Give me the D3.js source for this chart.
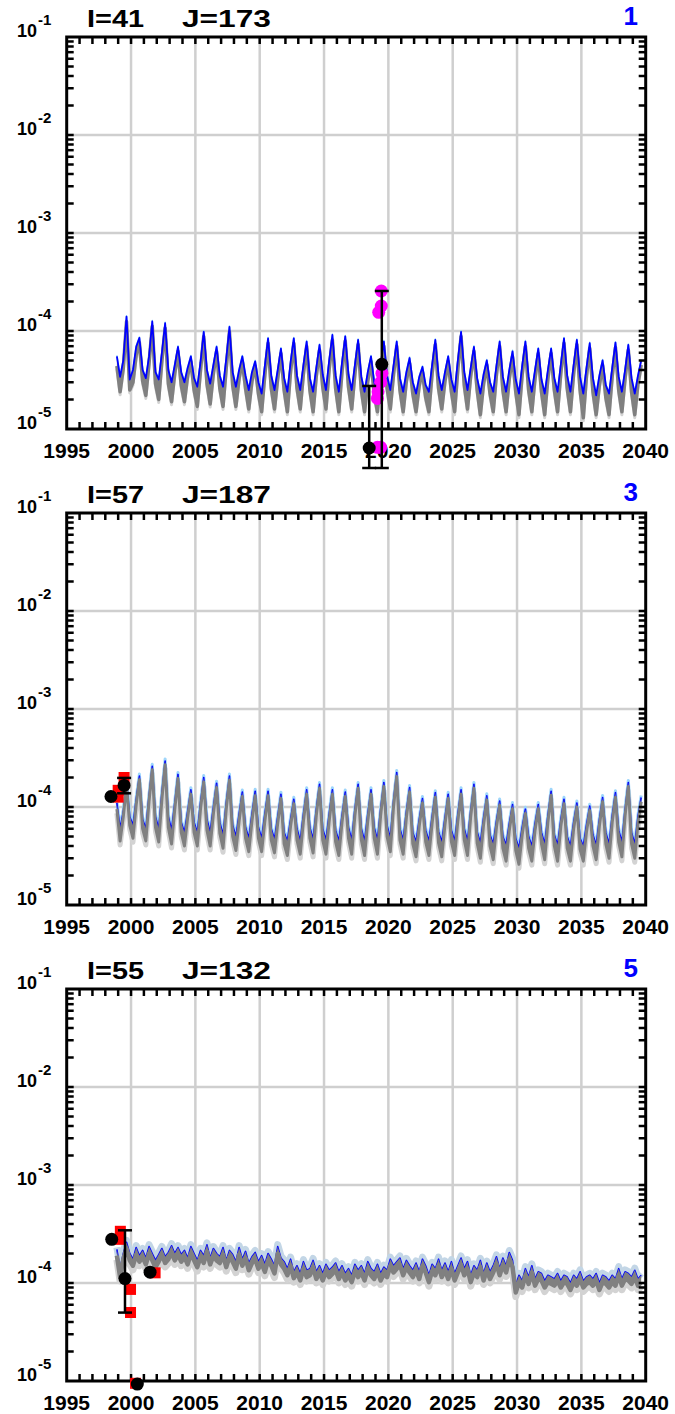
<!DOCTYPE html>
<html><head><meta charset="utf-8">
<script src="https://cdn.jsdelivr.net/npm/d3@7"></script>
<style>
body{margin:0;background:#fff}
svg{display:block}
text{font-family:"Liberation Sans",Arial,Helvetica,sans-serif;font-weight:bold}
</style>
</head><body>
<svg id="c" width="675" height="1414"></svg>
<script>
// ---------------- data ----------------
const unit = 1e-6;                       // series values are given in units of 1e-6
const xTickYears = [1995,2000,2005,2010,2015,2020,2025,2030,2035,2040];
const yDecades = [-1,-2,-3,-4,-5];
const panelNumbers = ["1","3","5"];
const panelI = ["I=41","I=57","I=55"];
const panelJ = ["J=173","J=187","J=132"];
const seriesStart = 1998.9, seriesStep = 0.25;

const blue1 = [55,34,50,140, 32,40,69,85, 40,33,55,125, 38,32,60,120, 40,30,45,69, 38,30,42,55, 33,27,48,98, 40,29,45,69, 35,27,52,110, 38,27,40,55, 35,25,38,49, 30,23,44,84, 35,25,40,66, 33,24,48,84, 35,25,45,78, 33,24,42,72, 36,25,50,91, 35,24,48,88, 36,25,45,81, 34,24,38,55, 30,23,45,78, 35,25,44,78, 33,24,38,53, 30,23,34,43, 28,24,45,81, 35,25,38,55, 32,24,50,98, 38,25,42,69, 33,23,36,50, 30,24,44,78, 34,24,40,62, 32,23,44,78, 34,24,40,66, 32,23,40,66, 33,24,45,84, 35,24,45,81, 34,23,42,75, 33,22,35,50, 28,23,42,76, 34,24,40,72, 33,23,35,50];
const gray1 = [44,24,42,125, 25,30,57,76, 31,22,47,112, 29,20,50,107, 29,19,37,62, 28,19,35,49, 25,17,40,88, 29,18,37,62, 26,17,42,98, 28,17,33,49, 26,16,31,44, 23,15,36,75, 26,16,33,59, 25,15,39,75, 26,16,37,70, 25,15,35,64, 27,16,41,81, 26,15,39,79, 27,16,37,73, 25,15,31,49, 23,15,37,70, 26,16,36,70, 25,15,31,47, 23,15,28,38, 21,15,37,73, 26,16,31,49, 24,15,41,88, 28,16,35,62, 25,14,29,45, 23,15,36,70, 25,15,33,55, 24,14,36,70, 25,15,33,59, 24,14,33,59, 25,15,37,75, 26,15,37,73, 25,13,35,67, 24,14,28,45, 21,14,35,68, 25,15,33,64, 24,14,29,45];

const blue2 = [110,60,90,180, 80,65,120,207, 75,60,130,260, 80,60,140,295, 80,58,110,215, 70,55,90,150, 70,55,110,200, 75,55,100,175, 70,52,110,207, 65,50,85,142, 62,48,85,145, 62,48,85,145, 60,47,80,135, 55,45,75,120, 60,45,85,150, 62,47,95,170, 60,46,85,150, 58,45,82,142, 62,46,95,170, 60,45,85,150, 62,46,95,178, 65,48,115,225, 60,46,90,158, 55,44,75,122, 58,45,80,140, 56,44,78,135, 58,45,85,150, 60,45,92,170, 56,43,78,130, 52,42,72,115, 50,41,68,106, 48,38,62,95, 50,40,68,106, 55,42,82,145, 52,41,74,120, 50,40,70,110, 48,40,66,102, 52,41,75,125, 55,42,82,140, 58,44,95,178, 55,42,80,125];
const gray2 = [95,45,80,165, 65,48,105,190, 60,45,115,240, 62,44,120,270, 62,42,95,195, 55,40,78,135, 55,40,95,180, 58,40,85,158, 54,38,95,188, 50,36,72,128, 48,35,72,130, 48,35,72,130, 46,34,68,122, 42,32,64,108, 46,33,72,135, 48,34,82,155, 46,33,72,135, 44,32,70,128, 48,33,82,155, 46,32,72,135, 48,33,82,162, 50,35,100,205, 46,33,78,142, 42,31,64,110, 44,32,68,126, 43,31,66,122, 44,32,72,135, 46,32,80,155, 43,30,66,118, 40,29,62,104, 38,28,58,96, 36,26,52,86, 38,28,58,96, 42,29,70,132, 40,28,63,108, 38,28,60,100, 37,28,56,92, 40,29,64,113, 42,30,70,126, 44,31,82,162, 42,30,68,113];

const blue3 = [220,140,200,260, 200,175,230,190, 215,180,235,200, 170,195,225,185, 205,240,200,230, 195,215,180,235, 200,170,215,190, 245,180,225,200, 185,230,170,215, 195,165,230,175, 210,160,185,205, 165,190,155,200, 175,150,235,180, 165,140,175,130, 150,125,165,135, 140,170,130,150, 125,155,135,145, 160,130,150,125, 140,120,155,135, 150,125,165,140, 130,155,125,145, 135,175,150,165, 180,140,170,150, 135,160,130,175, 150,120,155,140, 175,135,160,130, 165,125,150,180, 140,165,120,150, 135,170,125,160, 130,150,185,140, 180,150,205,170, 95,120,105,140, 115,150,110,130, 125,105,120,115, 110,125,105,120, 115,100,120,110, 130,105,115,120, 110,125,100,120, 115,105,120,110, 140,110,130,125, 115,135,110,120];
const gray3 = [190,115,175,225, 170,150,195,165, 185,155,200,170, 145,165,195,160, 175,205,170,195, 165,185,155,200, 170,145,185,160, 210,155,190,170, 160,195,145,185, 165,140,195,150, 180,135,160,175, 140,160,130,170, 150,125,200,155, 140,120,150,112, 128,106,140,115, 120,145,110,128, 106,132,115,124, 136,110,128,106, 120,102,132,115, 128,106,140,120, 110,132,106,124, 115,150,128,140, 153,120,145,128, 115,136,110,150, 128,102,132,120, 150,115,136,110, 140,106,128,153, 120,140,102,128, 115,145,106,136, 110,128,158,120, 153,128,175,145, 80,102,90,120, 98,128,94,110, 106,90,102,98, 94,106,90,102, 98,85,102,94, 110,90,98,102, 94,106,85,102, 98,90,102,94, 120,94,110,106, 98,115,94,102];

// markers: [year, value(1e-6)] ; error bars: [year, low, high]
const magenta1 = [[2019.45,256],[2019.45,180],[2019.25,155],[2019.5,37],[2019.4,30],[2019.2,24],[2019.15,20.5],[2019.15,6.5],[2019.4,6.5]];
const red1 = [];
const black1 = [[2018.51,6.4],[2019.49,45.7]];
const err1 = [[2018.51,4.0,27.5],[2019.49,4.0,256]];

const magenta2 = [];
const red2 = [[1999.0,148],[1999.0,126],[1999.46,200]];
const black2 = [[1998.44,128],[1999.46,166]];
const err2 = [[1999.46,138,198]];

const magenta3 = [];
const red3 = [[1999.17,337],[1999.17,279],[1999.96,86],[1999.96,50],[2001.87,127],[2000.35,9.47]];
const black3 = [[1998.5,279],[1999.53,111],[2001.48,129],[2000.49,9.3]];
const err3 = [[1999.53,49.9,345]];

// ---------------- drawing ----------------
const panels = [
  {blue: blue1, gray: gray1, magenta: magenta1, red: red1, black: black1, err: err1},
  {blue: blue2, gray: gray2, magenta: magenta2, red: red2, black: black2, err: err2},
  {blue: blue3, gray: gray3, magenta: magenta3, red: red3, black: black3, err: err3}
];
const styles = [
  {lgW:3, lgDy:3, lbW:1.5, lbDy:-1, lbColor:"#87cefa", blueW:1.8, blueTop:true, grayW:3.5},
  {lgW:5, lgDy:4, lbW:3, lbDy:-2, lbColor:"#9fd6fb", blueW:1.6, blueTop:false, grayW:3},
  {lgW:7, lgDy:4, lbW:7, lbDy:-2, lbColor:"#c3d6e6", blueW:1.6, blueTop:false, grayW:4.5}
];

const svg = d3.select("#c");
const L = 66.7, R = 645.7, PH = 392, step = 476, top0 = 37;
const x = d3.scaleLinear().domain([1995, 2040]).range([L, R]);

panels.forEach((p, i) => {
  const st = styles[i];
  const top = top0 + step * i, bot = top + PH;
  const y = d3.scaleLog().domain([1e-5, 1e-1]).range([bot, top]);
  const g = svg.append("g");

  // gridlines
  g.selectAll(".gx").data(xTickYears.slice(1, -1)).join("line")
    .attr("x1", d => x(d)).attr("x2", d => x(d)).attr("y1", top).attr("y2", bot)
    .attr("stroke", "#cfcfcf").attr("stroke-width", 2.5);
  g.selectAll(".gy").data(yDecades.slice(1, -1)).join("line")
    .attr("x1", L).attr("x2", R).attr("y1", d => y(Math.pow(10, d))).attr("y2", d => y(Math.pow(10, d)))
    .attr("stroke", "#cfcfcf").attr("stroke-width", 2.5);

  // series
  const pts = p.blue.map((v, k) => ({t: seriesStart + k * seriesStep, b: v * unit, g: p.gray[k] * unit}));
  const lineB = d3.line().x(d => x(d.t)).y(d => y(d.b));
  const lineG = d3.line().x(d => x(d.t)).y(d => y(d.g));
  const areaG = d3.area().x(d => x(d.t)).y0(d => y(d.g)).y1(d => y(d.b));

  g.append("path").datum(pts).attr("d", lineG).attr("fill", "none")
    .attr("stroke", "#d3d3d3").attr("stroke-width", st.lgW).attr("stroke-linejoin", "round")
    .attr("transform", `translate(0,${st.lgDy})`);
  g.append("path").datum(pts).attr("d", lineB).attr("fill", "none")
    .attr("stroke", st.lbColor).attr("stroke-width", st.lbW).attr("stroke-linejoin", "round")
    .attr("transform", `translate(0,${st.lbDy})`);
  const drawBlue = () => g.append("path").datum(pts).attr("d", lineB).attr("fill", "none")
    .attr("stroke", "#0000ff").attr("stroke-width", st.blueW).attr("stroke-linejoin", "round");
  if (!st.blueTop) drawBlue();
  g.append("path").datum(pts).attr("d", areaG).attr("fill", "#808080");
  g.append("path").datum(pts).attr("d", lineG).attr("fill", "none")
    .attr("stroke", "#808080").attr("stroke-width", st.grayW).attr("stroke-linejoin", "round");
  if (st.blueTop) drawBlue();

  // frame
  g.append("rect").attr("x", L).attr("y", top).attr("width", R - L).attr("height", PH)
    .attr("fill", "none").attr("stroke", "#000").attr("stroke-width", 3);

  // x ticks (every year, inward, top and bottom)
  const yrs = d3.range(1996, 2040);
  g.selectAll(".tb").data(yrs).join("line")
    .attr("x1", d => x(d)).attr("x2", d => x(d)).attr("y1", bot).attr("y2", bot - 7)
    .attr("stroke", "#000").attr("stroke-width", 2.5);
  g.selectAll(".tt").data(yrs).join("line")
    .attr("x1", d => x(d)).attr("x2", d => x(d)).attr("y1", top).attr("y2", top + 7)
    .attr("stroke", "#000").attr("stroke-width", 2.5);
  // y ticks (log minor), inward, left and right
  const yt = [];
  [-5, -4, -3, -2].forEach(d => { for (let m = 1; m <= 9; m++) { const v = m * Math.pow(10, d); if (v > 1e-5 && v < 1e-1) yt.push(v); } });
  g.selectAll(".tl").data(yt).join("line")
    .attr("x1", L).attr("x2", L + 7).attr("y1", d => y(d)).attr("y2", d => y(d))
    .attr("stroke", "#000").attr("stroke-width", 2.5);
  g.selectAll(".tr").data(yt).join("line")
    .attr("x1", R).attr("x2", R - 7).attr("y1", d => y(d)).attr("y2", d => y(d))
    .attr("stroke", "#000").attr("stroke-width", 2.5);

  // x labels
  g.selectAll(".xl").data(xTickYears).join("text")
    .attr("x", d => x(d)).attr("y", bot + 29).attr("text-anchor", "middle")
    .attr("font-size", 21).text(d => d);
  // y labels
  yDecades.forEach(d => {
    const t = g.append("text").attr("x", 17).attr("y", y(Math.pow(10, d)) + 0.3);
    t.append("tspan").attr("font-size", 18).text("10");
    t.append("tspan").attr("font-size", 15).attr("dx", 1).attr("dy", -12).text(String(d));
  });

  // titles
  g.append("text").attr("x", 87).attr("y", top - 10.3).attr("font-size", 23)
    .attr("textLength", 57).attr("lengthAdjust", "spacingAndGlyphs").text(panelI[i]);
  g.append("text").attr("x", 182).attr("y", top - 10.3).attr("font-size", 23)
    .attr("textLength", 89).attr("lengthAdjust", "spacingAndGlyphs").text(panelJ[i]);
  g.append("text").attr("x", 638).attr("y", top - 12).attr("font-size", 26)
    .attr("text-anchor", "end").attr("fill", "#0000ff").text(panelNumbers[i]);

  // markers
  g.selectAll(".mg").data(p.magenta).join("circle")
    .attr("cx", d => x(d[0])).attr("cy", d => y(d[1] * unit)).attr("r", 6.5).attr("fill", "#ff00ff");
  g.selectAll(".rd").data(p.red).join("rect")
    .attr("x", d => x(d[0]) - 5.5).attr("y", d => y(d[1] * unit) - 5.5)
    .attr("width", 11).attr("height", 11).attr("fill", "#ff0000");
  p.err.forEach(e => {
    const ex = x(e[0]), y0 = y(e[1] * unit), y1 = y(e[2] * unit);
    g.append("line").attr("x1", ex).attr("x2", ex).attr("y1", y0).attr("y2", y1)
      .attr("stroke", "#000").attr("stroke-width", 2.5);
    [y0, y1].forEach(yy => g.append("line").attr("x1", ex - 7).attr("x2", ex + 7)
      .attr("y1", yy).attr("y2", yy).attr("stroke", "#000").attr("stroke-width", 2.5));
  });
  g.selectAll(".bk").data(p.black).join("circle")
    .attr("cx", d => x(d[0])).attr("cy", d => y(d[1] * unit)).attr("r", 6.5).attr("fill", "#000");
});
</script>
</body></html>
